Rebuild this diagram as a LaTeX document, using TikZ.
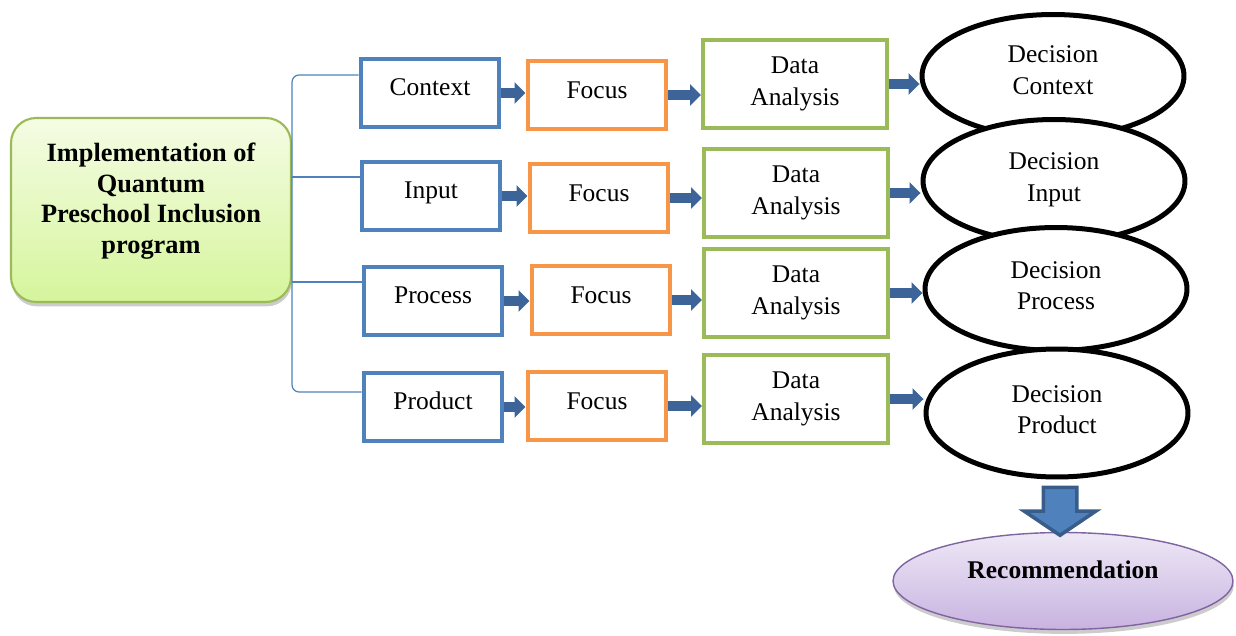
\documentclass[tikz,border=0pt]{standalone}
\usepackage{fontspec}
\setmainfont{Liberation Serif}
\usetikzlibrary{arrows.meta,calc,positioning,shapes.geometric,shapes.arrows,shadows}

\definecolor{cipblue}{HTML}{4F81BD}
\definecolor{ciporange}{HTML}{F79646}
\definecolor{cipgreen}{HTML}{9BBB59}
\definecolor{arrowblue}{HTML}{3C6499}
\definecolor{arrowedge}{HTML}{385D8A}
\definecolor{recedge}{HTML}{8064A2}
\definecolor{progtop}{HTML}{F5FCE4}
\definecolor{progbot}{HTML}{D5F59C}
\definecolor{rectop}{HTML}{EEE8F6}
\definecolor{recbot}{HTML}{C8B3E0}

\tikzset{
  stagebox/.style={draw=#1, line width=0.08cm, fill=white, inner sep=0pt,
    minimum width=2.78cm, minimum height=1.36cm, align=center},
  anabox/.style={draw=cipgreen, line width=0.08cm, fill=white, inner sep=0pt,
    minimum width=3.68cm, minimum height=1.76cm, align=center},
  decision/.style={ellipse, draw=black, line width=0.1cm, fill=white, inner sep=0pt,
    minimum width=5.24cm, minimum height=2.46cm, align=center},
  flow/.style={line width=0.19cm, draw=arrowblue,
    -{Triangle[width=0.42cm,length=0.22cm]}},
  brace/.style={draw=cipblue, line width=0.7pt}
}

\begin{document}
\begin{tikzpicture}[x=0.02cm,y=-0.02cm,font=\fontsize{14.5}{18}\selectfont]
  \useasboundingbox (0,0) rectangle (1236,635);

  % Program box on the left
  \node[draw=cipgreen, line width=1.2pt, rounded corners=0.5cm, top color=progtop,
    bottom color=progbot, drop shadow={shadow xshift=0.5pt,shadow yshift=-2.5pt,fill=black!40},
    minimum width=5.6cm, minimum height=3.68cm, align=center,
    font=\fontsize{15}{17.4}\selectfont\bfseries] (impl) at (151,210)
    {Implementation of\\Quantum\\Preschool Inclusion\\program\\[-3.8pt]};

  % CIPP components
  \node[stagebox=cipblue] (ctx) at (430,93) {Context\\[-11pt]};
  \node[stagebox=cipblue] (inp) at (431,196) {Input\\[-11pt]};
  \node[stagebox=cipblue] (prc) at (433,301) {Process\\[-11pt]};
  \node[stagebox=cipblue] (prd) at (433,407) {Product\\[-11pt]};

  % Focus boxes
  \node[stagebox=ciporange] (foc1) at (597,95) {Focus\\[-12pt]};
  \node[stagebox=ciporange] (foc2) at (599,198) {Focus\\[-12pt]};
  \node[stagebox=ciporange] (foc3) at (601,300) {Focus\\[-12pt]};
  \node[stagebox=ciporange] (foc4) at (597,406) {Focus\\[-12pt]};

  % Data analysis boxes
  \node[anabox] (da1) at (795,84) {Data\\Analysis};
  \node[anabox] (da2) at (796,193) {Data\\Analysis};
  \node[anabox] (da3) at (796,293) {Data\\Analysis};
  \node[anabox] (da4) at (796,399) {Data\\Analysis};

  % Decisions (each one drawn over the one above)
  \node[decision] (dc1) at (1053,76) {Decision\\Context\\[-11pt]};
  \node[decision] (dc2) at (1054,181) {Decision\\Input\\[-13.5pt]};
  \node[decision] (dc3) at (1056,289) {Decision\\Process\\[-14pt]};
  \node[decision, minimum height=2.56cm] (dc4) at (1057,413) {Decision\\Product\\[-14pt]};

  % Recommendation
  \node[ellipse, draw=recedge, line width=0.8pt, top color=rectop, bottom color=recbot,
    drop shadow={shadow xshift=0.5pt,shadow yshift=-2.5pt,fill=black!40},
    minimum width=6.8cm, minimum height=1.94cm, inner sep=0pt, align=center,
    font=\fontsize{14.5}{18}\selectfont\bfseries]
    (rec) at (1063,581) {Recommendation\\[-5.5pt]};

  % Bracket from the program box to the components
  \draw[brace, rounded corners=4pt] ($(ctx.west)+(0,-18)$) -| (impl.east) |- ($(prd.west)+(0,-15)$);
  \draw[brace] ($(inp.west)+(0,-19)$) coordinate (b2) -- (b2 -| impl.east);
  \draw[brace] ($(prc.west)+(0,-19)$) coordinate (b3) -- (b3 -| impl.east);

  % Flow arrows along the rows
  \foreach \a/\b/\c/\d in {ctx/foc1/da1/dc1, inp/foc2/da2/dc2, prc/foc3/da3/dc3, prd/foc4/da4/dc4}{
    \draw[flow] (\a.east) -- (\a.east -| \b.west);
    \draw[flow] (\b.east) -- (\b.east -| \c.west);
    \draw[flow] (\c.east) -- (\c.east -| \d.west);
  }

  % Down arrow to the recommendation
  \node[single arrow, draw=arrowedge, fill=cipblue, line width=2pt, rotate=-90,
    inner sep=0.3cm, single arrow head extend=0.38cm, single arrow tip angle=112,
    minimum height=0.96cm] (down) at ($(dc4.south)!0.5!(rec.north)$) {};
\end{tikzpicture}
\end{document}
